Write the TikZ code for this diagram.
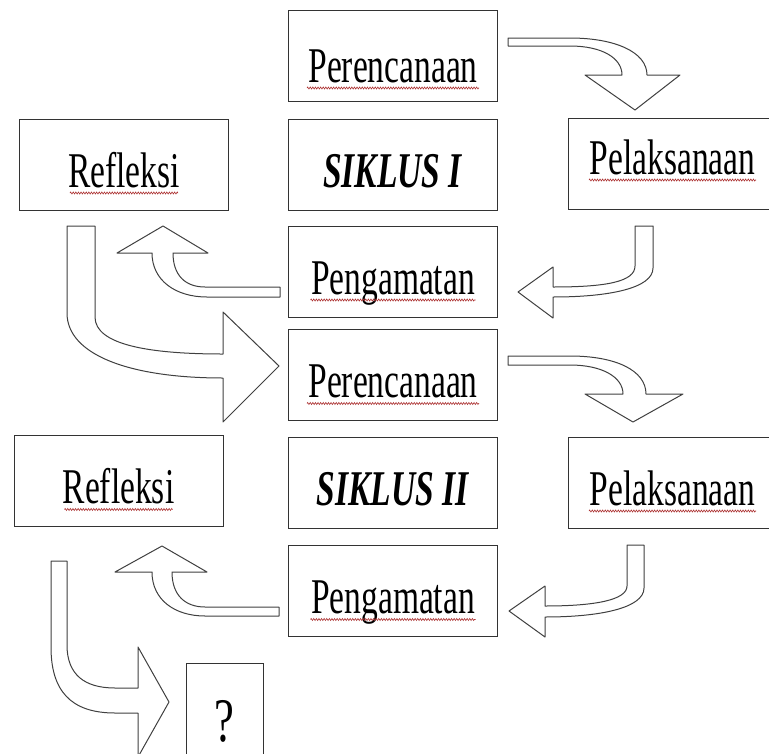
\documentclass[tikz,border=0pt]{standalone}
\usepackage{fontspec}
\setmainfont{Liberation Serif}
\usetikzlibrary{positioning,decorations.pathmorphing}

\newcommand{\narrow}[1]{\scalebox{0.67}[1]{#1}}

\tikzset{
	box/.style={draw=black!80, line width=0.9pt, fill=white, minimum width=209pt, minimum height=91pt, inner sep=0pt, text height=45pt, text depth=0pt, font=\fontsize{50}{60}\selectfont},
	blockarrow/.style={draw=black!75, line width=1pt, fill=white, line join=round},
	spell/.style={draw=red!60!black!80, line width=0.6pt, decorate, decoration={zigzag, segment length=2.6pt, amplitude=1pt}},
}

\begin{document}
\begin{tikzpicture}[x=1pt, y=-1pt]
	\useasboundingbox (0,0) rectangle (769,753);
	\clip (0,0) rectangle (769,753);

	% siklus I
	\node[box, text height=53pt] (per1) at (393,55.5) {\narrow{Perencanaan}};
	\node[box] (sik1) at (393,164.5) {\narrow{\textbf{\textit{SIKLUS I}}}};
	\node[box] (ref1) at (124,164.5) {\narrow{Refleksi}};
	\node[box, text height=20pt] (pel1) at (672.5,164) {\narrow{Pelaksanaan}};
	\node[box] (pen1) at (393,271.5) {\narrow{Pengamatan}};

	% siklus II
	\node[box] (per2) at (393,375) {\narrow{Perencanaan}};
	\node[box] (sik2) at (393,482.5) {\narrow{\textbf{\textit{SIKLUS II}}}};
	\node[box] (ref2) at (118.5,481) {\narrow{Refleksi}};
	\node[box] (pel2) at (672.5,482.5) {\narrow{Pelaksanaan}};
	\node[box] (pen2) at (393,591) {\narrow{Pengamatan}};

	\node[box, minimum width=77pt, minimum height=91pt, text height=65pt, font=\fontsize{62}{70}\selectfont] (q) at (224.5,708.5) {\scalebox{0.72}[1]{?}};

	% spelling marks
	\foreach \n/\w in {per1/172, ref1/108, pel1/167, pen1/165, per2/172, ref2/108, pel2/167, pen2/165}
		\draw[spell] ([shift={(-0.5*\w,6)}]\n.base) -- ([shift={(0.5*\w,6)}]\n.base);

	% block arrows
	\draw[blockarrow] (508,38) -- (570,38) .. controls (615,38) and (647,52) .. (647,75) -- (680,75) -- (635,110) -- (585,75) -- (622,75) .. controls (622,58) and (602,46) .. (570,46) -- (508,46) -- cycle;
	\draw[blockarrow] (635,226) -- (653,226) -- (653,268) .. controls (653,288) and (610,297) .. (553,297) -- (553,318) -- (518,292) -- (553,267) -- (553,287) .. controls (605,287) and (635,282) .. (635,266) -- cycle;
	\draw[blockarrow] (280,287) -- (205,287) .. controls (185,287) and (173,275) .. (173,253) -- (208,253) -- (163,226) -- (117,253) -- (152,253) .. controls (152,280) and (175,297) .. (207,297) -- (280,297) -- cycle;
	\draw[blockarrow] (67,226) -- (95,226) -- (95,317) .. controls (95,345) and (150,354) .. (223,354) -- (223,312) -- (279,366) -- (223,422) -- (223,378) .. controls (130,378) and (67,355) .. (67,313) -- cycle;
	\draw[blockarrow] (508,356) -- (570,356) .. controls (615,356) and (646,370) .. (646,394) -- (683,394) -- (633,422) -- (585,394) -- (623,394) .. controls (623,377) and (602,365) .. (570,365) -- (508,365) -- cycle;
	\draw[blockarrow] (627,545) -- (644,545) -- (644,588) .. controls (644,608) and (600,617) .. (545,617) -- (545,637) -- (509,611) -- (545,586) -- (545,606) .. controls (595,606) and (627,600) .. (627,586) -- cycle;
	\draw[blockarrow] (279,607) -- (205,607) .. controls (185,607) and (172,595) .. (172,572) -- (207,572) -- (162,546) -- (115,572) -- (152,572) .. controls (152,600) and (175,616) .. (205,616) -- (279,616) -- cycle;
	\draw[blockarrow] (51,561) -- (67,561) -- (67,645) .. controls (67,675) and (85,688) .. (115,688) -- (138,688) -- (138,647) -- (169,702) -- (138,757) -- (138,713) -- (115,713) .. controls (70,713) and (51,690) .. (51,647) -- cycle;
\end{tikzpicture}
\end{document}
